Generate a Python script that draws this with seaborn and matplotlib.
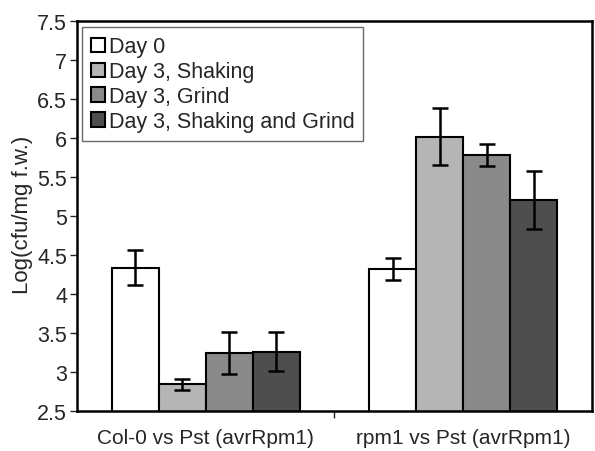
import pandas as pd
import matplotlib.pyplot as plt
import seaborn as sns

# Values
groups = ['Col-0 vs Pst (avrRpm1)', 'rpm1 vs Pst (avrRpm1)']
treatments = ['Day 0', 'Day 3, Shaking', 'Day 3, Grind', 'Day 3, Shaking and Grind']
col0_mean = [4.34, 2.84, 3.24, 3.26]
col0_err = [0.22, 0.07, 0.27, 0.25]
rpm1_mean = [4.32, 6.02, 5.78, 5.21]
rpm1_err = [0.14, 0.36, 0.14, 0.37]
colors = ['#ffffff', '#b5b5b5', '#8a8a8a', '#4e4e4e']

rows = []
for g, means, errs in [(groups[0], col0_mean, col0_err), (groups[1], rpm1_mean, rpm1_err)]:
    for t, m, e in zip(treatments, means, errs):
        rows.append({'group': g, 'treatment': t, 'value': m, 'err': e})
df = pd.DataFrame(rows)

sns.set_style('white')
plt.rcParams['font.family'] = ['Liberation Sans', 'DejaVu Sans']

fig = plt.figure(figsize=(5.95, 4.52), dpi=100)
ax = fig.add_axes([0.129, 0.0885, 0.866, 0.8625])

sns.barplot(data=df, x='group', y='value', hue='treatment', order=groups,
            hue_order=treatments, palette=colors, width=0.73, gap=0,
            edgecolor='black', linewidth=1.5, errorbar=None, saturation=1,
            ax=ax)

# error bars at the centres of the drawn bars
for cont, t in zip(ax.containers, treatments):
    sub = df[df['treatment'] == t].set_index('group').loc[groups]
    xs = [b.get_x() + b.get_width() / 2 for b in cont]
    ax.errorbar(xs, sub['value'], yerr=sub['err'], fmt='none', ecolor='black',
                elinewidth=1.8, capsize=6, capthick=1.8, zorder=5)

ax.set_ylim(2.5, 7.5)
ax.set_yticks([2.5, 3, 3.5, 4, 4.5, 5, 5.5, 6, 6.5, 7, 7.5])
ax.set_yticklabels(['2.5', '3', '3.5', '4', '4.5', '5', '5.5', '6', '6.5', '7', '7.5'])
ax.set_xlim(-0.5, 1.5)
ax.set_xticks([0.5], minor=True)
ax.tick_params(axis='x', which='major', length=0, pad=12, labelsize=15)
ax.tick_params(axis='x', which='minor', length=5, width=1, direction='out', bottom=True)
ax.tick_params(axis='y', length=5, width=1, direction='out', left=True, labelsize=15.5, pad=2)
ax.set_xlabel('')
ax.set_ylabel('Log(cfu/mg f.w.)', fontsize=16)
ax.yaxis.set_label_coords(-0.085, 0.505)

for s in ax.spines.values():
    s.set_visible(True)
    s.set_color('black')
    s.set_linewidth(1.8)

leg = ax.legend(loc='upper left', bbox_to_anchor=(0.011, 0.984), fontsize=15.5,
                frameon=True, fancybox=False, borderaxespad=0, handlelength=0.65,
                handleheight=0.65, handletextpad=0.15, labelspacing=0.18,
                borderpad=0.42)
leg.get_frame().set_edgecolor('#444444')
leg.get_frame().set_linewidth(1.0)
for h in leg.legend_handles:
    h.set_edgecolor('black')
    h.set_linewidth(1.5)

fig.savefig('out.png', dpi=100)
